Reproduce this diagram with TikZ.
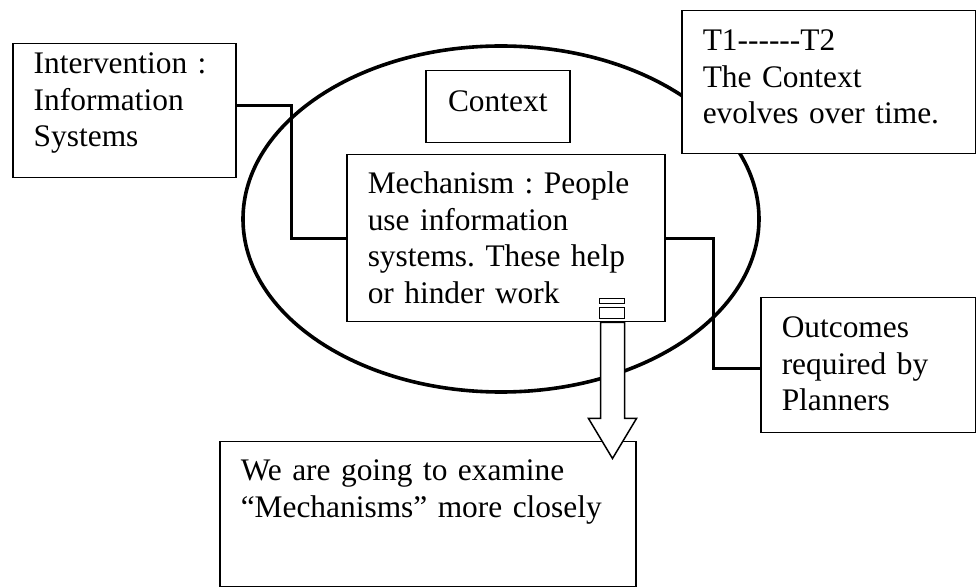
\documentclass[tikz,border=0pt]{standalone}
\usepackage{fontspec}
\setmainfont{Liberation Serif}
\frenchspacing
\usetikzlibrary{shapes.geometric}

\tikzset{
  box/.style={draw, line width=0.75pt, fill=white, anchor=north west, align=left,
    inner xsep=10.5pt, inner ysep=0pt, font=\fontsize{15.7}{18.25}\selectfont},
  link/.style={line width=1.6pt},
}

\begin{document}
\begin{tikzpicture}[x=0.5pt, y=-0.5pt]
\useasboundingbox (0,0) rectangle (976,588);
\node[ellipse, draw, line width=1.8pt, minimum width=258pt, minimum height=173pt, inner sep=0pt] (ring) at (501,219) {};

\node[box, text width=90.5pt, text height=15pt, text depth=52pt] (interv) at (12,43) {Intervention :\\ Information\\ Systems};
\node[box, align=center, text width=51pt, text height=20.5pt, text depth=15.5pt] (ctx) at (425,70) {Context};
\node[box, text width=126pt, text height=20pt, text depth=51.5pt] (period) at (681,10) {T1-{}-{}-{}-{}-{}-T2\\ The Context\\ evolves over time.};
\node[box, text width=138pt, text height=19.5pt, text depth=64pt] (mech) at (346,154) {Mechanism : People\\ use information\\ systems. These help\\ or hinder work};
\node[box, text width=86.5pt, text height=20pt, text depth=47.5pt] (outcome) at (760,297) {Outcomes\\ required by\\ Planners};
\node[box, text width=187pt, text height=19.5pt, text depth=53pt] (examine) at (219,441) {We are going to examine\\ “Mechanisms” more closely};

\draw[link] ([yshift=2.5pt]interv.east) -- ++(55,0) |- (mech.west);
\draw[link] (mech.east) -- ++(48,0) |- ([yshift=-1.75pt]outcome.west);

% hollow arrow down to the last box
\coordinate (tail) at ([xshift=-26.5pt]mech.south east);
\draw[line width=0.75pt, fill=white] (tail) ++(-12,0) -- ++(0,96) -- ++(-12,0) -- ++(24,40) -- ++(24,-40) -- ++(-12,0) -- ++(0,-96) -- cycle;
\draw[line width=0.75pt] (tail) ++(-13,-24) rectangle ++(25,5) (tail) ++(-13,-15) rectangle ++(25,11);
\end{tikzpicture}
\end{document}
